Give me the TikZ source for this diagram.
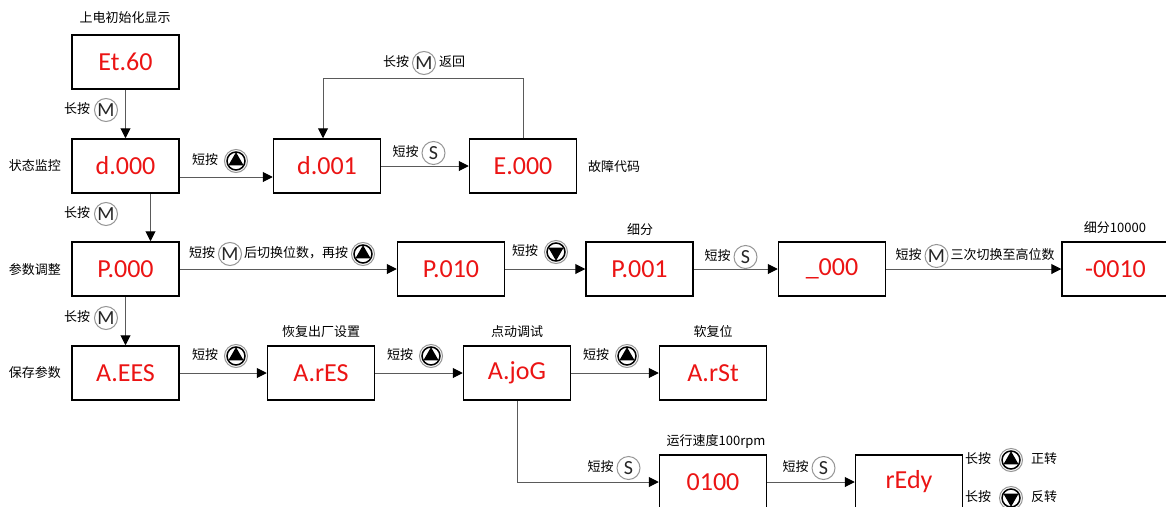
\documentclass[tikz,border=0pt]{standalone}
\usepackage{fontspec}
\setmainfont{Noto Sans CJK SC}
\newfontfamily\carlito{Carlito}
\usetikzlibrary{arrows.meta}

\definecolor{dispred}{RGB}{235,20,20}
\definecolor{wire}{RGB}{90,90,90}
\definecolor{ring}{RGB}{150,150,150}

% push-button icons used inside the labels
\newcommand\keyL[1]{\tikz[baseline=-0.55ex]\node[circle,draw=ring,line width=1pt,
  minimum size=23pt,inner sep=0pt,font=\carlito\fontsize{20}{20}\selectfont,text=black!85]{#1};}
\newcommand\keyUp{\tikz[baseline=-0.55ex]{\draw[ring,line width=1pt] (0,0) circle (11.5pt);
  \draw[line width=1.5pt] (0,0) circle (9pt);
  \fill (90:8.8pt) -- (210:8.8pt) -- (330:8.8pt) -- cycle;}}
\newcommand\keyDn{\tikz[baseline=-0.55ex]{\draw[ring,line width=1pt] (0,0) circle (11.5pt);
  \draw[line width=1.5pt] (0,0) circle (9pt);
  \fill (270:8.8pt) -- (30:8.8pt) -- (150:8.8pt) -- cycle;}}

\tikzset{
  disp/.style={draw,line width=1.5pt,minimum width=107pt,minimum height=54pt,inner sep=0pt,
    text=dispred,font=\carlito\fontsize{26}{26}\selectfont},
  lbl/.style={inner sep=0pt,font=\fontsize{13}{14}\selectfont},
  conn/.style={draw=wire,line width=1pt,-{Triangle[length=10pt,width=10pt,fill=black,color=black]}},
}

\begin{document}
\begin{tikzpicture}[x=1pt,y=-1pt]
\useasboundingbox (0,0) rectangle (1166,506);

% display boxes
\node[disp] (et60) at (125.5,62) {Et.60};
\node[disp] (d000) at (125.5,166) {d.000};
\node[disp] (d001) at (327,166) {d.001};
\node[disp] (e000) at (523,166) {E.000};
\node[disp] (p000) at (125.5,269) {P.000};
\node[disp] (p010) at (451,269) {P.010};
\node[disp] (p001) at (639.5,269) {P.001};
\node[disp] (u000) at (832,269) {\_000};
\node[disp] (m0010) at (1115.5,269) {-0010};
\node[disp] (aees) at (125.5,373) {A.EES};
\node[disp] (ares) at (321,373) {A.rES};
\node[disp] (ajog) at (517,373) {A.joG};
\node[disp] (arst) at (713,373) {A.rSt};
\node[disp] (v0100) at (713,482) {0100};
\node[disp] (redy) at (909,482) {rEdy};

% connectors
\coordinate (looptop) at (0,78);
\draw[conn] (et60.south) -- (d000.north);
\draw[conn] ([yshift=-11pt]d000.east) -- ([yshift=-11pt]d000.east -| d001.west);
\draw[conn] (d001.east) -- (e000.west);
\draw[conn] (e000.north) |- ([xshift=-4pt]d001.north |- looptop) -- ([xshift=-4pt]d001.north);
\draw[conn] ([xshift=25pt]d000.south) -- ([xshift=25pt]d000.south |- p000.north);
\draw[conn] (p000.east) -- (p010.west);
\draw[conn] (p010.east) -- (p001.west);
\draw[conn] (p001.east) -- (u000.west);
\draw[conn] (u000.east) -- (m0010.west);
\draw[conn] (p000.south) -- (aees.north);
\draw[conn] (aees.east) -- (ares.west);
\draw[conn] (ares.east) -- (ajog.west);
\draw[conn] (ajog.east) -- (arst.west);
\draw[conn] (ajog.south) |- (v0100.west);
\draw[conn] (v0100.east) -- (redy.west);

% titles and side captions
\node[lbl] (tinit) at (125,18) {上电初始化显示};
\node[lbl] (smon) at (35,166) {状态监控};
\node[lbl] (sfault) at (614,167) {故障代码};
\node[lbl] (spar) at (35,270) {参数调整};
\node[lbl] (ssave) at (35,373) {保存参数};
\node[lbl] (tsub) at (640,230) {细分};
\node[lbl] (tsub2) at (1115,228) {细分10000};
\node[lbl] (tfac) at (321,332) {恢复出厂设置};
\node[lbl] (tjog) at (517,332) {点动调试};
\node[lbl] (tsoft) at (713,332) {软复位};
\node[lbl] (tspeed) at (716,441) {运行速度100rpm};

% key-press labels
\node[lbl] (k1) at (91,110) {长按\hspace{4pt}\keyL{M}};
\node[lbl] (k2) at (220,161) {短按\hspace{6pt}\keyUp};
\node[lbl] (k3) at (419,153) {短按\hspace{3pt}\keyL{S}};
\node[lbl] (k4) at (424,63) {长按\hspace{3pt}\keyL{M}\hspace{3pt}返回};
\node[lbl] (k5) at (91,214) {长按\hspace{4pt}\keyL{M}};
\node[lbl] (k6) at (282,254) {短按\hspace{3pt}\keyL{M}\hspace{2pt}后切换位数，再按\hspace{3pt}\keyUp};
\node[lbl] (k7) at (540,252) {短按\hspace{6pt}\keyDn};
\node[lbl] (k8) at (731,257) {短按\hspace{3pt}\keyL{S}};
\node[lbl] (k9) at (975,256) {短按\hspace{3pt}\keyL{M}\hspace{2pt}三次切换至高位数};
\node[lbl] (k10) at (91,318) {长按\hspace{4pt}\keyL{M}};
\node[lbl] (k11) at (220,356) {短按\hspace{6pt}\keyUp};
\node[lbl] (k12) at (415,356) {短按\hspace{6pt}\keyUp};
\node[lbl] (k13) at (611,356) {短按\hspace{6pt}\keyUp};
\node[lbl] (k14) at (614,468) {短按\hspace{3pt}\keyL{S}};
\node[lbl] (k15) at (809,468) {短按\hspace{3pt}\keyL{S}};
\node[lbl] (k16) at (1011,460) {长按\hspace{8pt}\keyUp\hspace{8pt}正转};
\node[lbl] (k17) at (1011,498) {长按\hspace{8pt}\keyDn\hspace{8pt}反转};
\end{tikzpicture}
\end{document}
